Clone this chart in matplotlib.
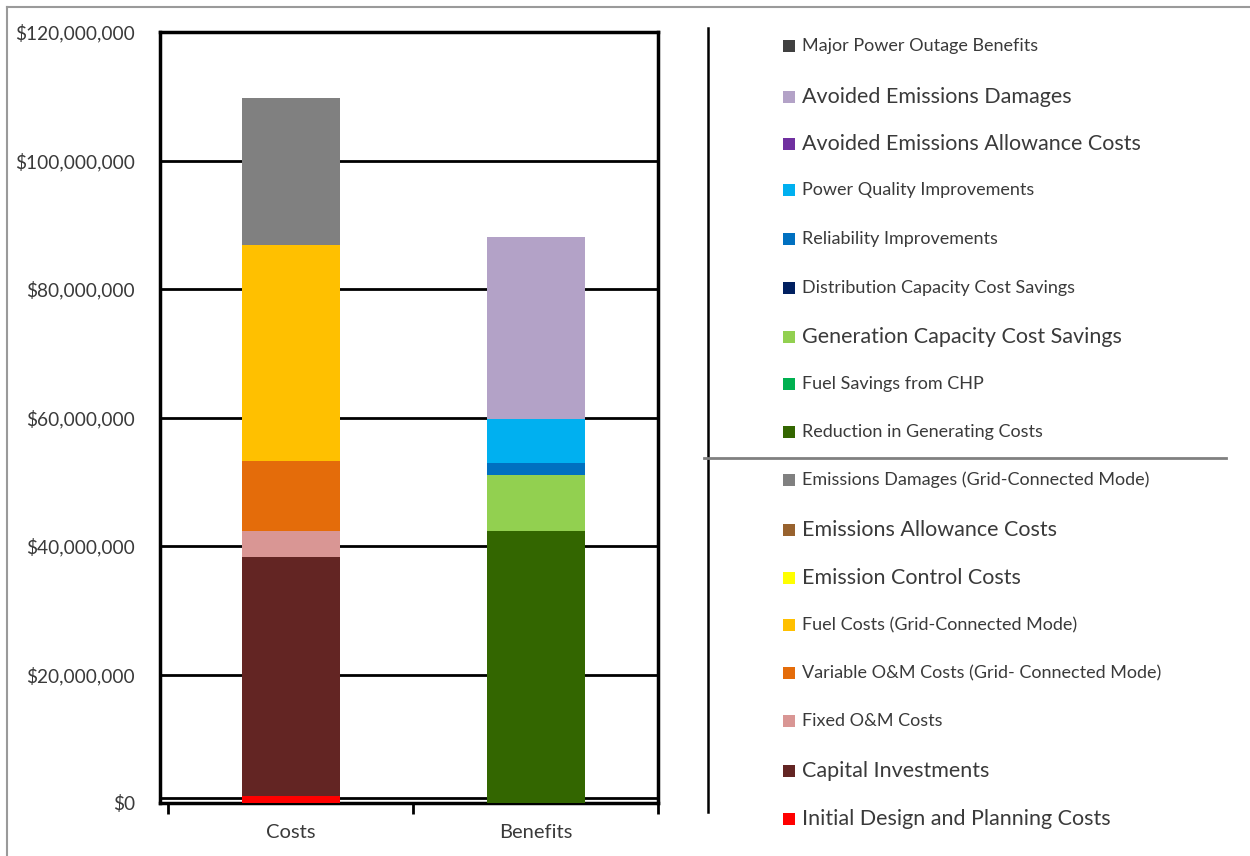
import numpy as np
import matplotlib.pyplot as plt
from matplotlib.lines import Line2D
from matplotlib.ticker import FuncFormatter

plt.rcParams['font.family'] = ['Lato', 'DejaVu Sans']

categories = ['Costs', 'Benefits']

# stacked components, bottom to top, in dollars
cost_labels = [
    'Initial Design and Planning Costs',
    'Capital Investments',
    'Fixed O&M Costs',
    'Variable O&M Costs (Grid- Connected Mode)',
    'Fuel Costs (Grid-Connected Mode)',
    'Emission Control Costs',
    'Emissions Allowance Costs',
    'Emissions Damages (Grid-Connected Mode)',
]
cost_values = [1.1e6, 37.2e6, 4.05e6, 10.95e6, 33.6e6, 0, 0, 22.75e6]
cost_colors = ['#FF0000', '#632523', '#D99694', '#E46C0A', '#FFC000',
               '#FFFF00', '#98622E', '#808080']

benefit_labels = [
    'Reduction in Generating Costs',
    'Fuel Savings from CHP',
    'Generation Capacity Cost Savings',
    'Distribution Capacity Cost Savings',
    'Reliability Improvements',
    'Power Quality Improvements',
    'Avoided Emissions Allowance Costs',
    'Avoided Emissions Damages',
    'Major Power Outage Benefits',
]
benefit_values = [42.35e6, 0, 8.7e6, 0, 1.9e6, 6.75e6, 0, 28.45e6, 0]
benefit_colors = ['#336600', '#00B050', '#92D050', '#002060', '#0070C0',
                  '#00B0F0', '#7030A0', '#B3A2C7', '#404040']

# legend order (top to bottom) and which entries use the larger type
legend_labels = benefit_labels[::-1] + cost_labels[::-1]
legend_colors = benefit_colors[::-1] + cost_colors[::-1]
legend_big = [False, True, True, False, False, False, True, False, False,
              False, True, True, False, False, False, True, True]

W, H = 1250, 856
fig = plt.figure(figsize=(W / 100, H / 100), dpi=100)


def px_box(x0, y0, x1, y1):
    return [x0 / W, 1 - y1 / H, (x1 - x0) / W, (y1 - y0) / H]


ax = fig.add_axes(px_box(160, 32, 658, 803))
text_gray = '#3a3a3a'

bottom = 0.0
for val, col in zip(cost_values, cost_colors):
    ax.bar(0, val, bottom=bottom, width=0.40, color=col, zorder=3)
    bottom += val
bottom = 0.0
for val, col in zip(benefit_values, benefit_colors):
    ax.bar(1, val, bottom=bottom, width=0.40, color=col, zorder=3)
    bottom += val

ax.set_ylim(0, 120e6)
ax.set_xlim(-0.533, 1.5)
ax.set_yticks(np.arange(0, 120e6 + 1, 20e6))
ax.yaxis.set_major_formatter(FuncFormatter(lambda v, p: f'${v:,.0f}'))
ax.grid(axis='y', color='black', linewidth=2, zorder=1)
ax.axhline(0.8e6, color='black', linewidth=2, zorder=1)
ax.tick_params(axis='y', length=0, pad=18, labelsize=13.8, labelcolor=text_gray)

ax.set_xticks([-0.5, 0.5, 1.5])
ax.set_xticklabels([])
ax.set_xticks([0, 1], minor=True)
ax.set_xticklabels(categories, minor=True)
ax.tick_params(axis='x', which='major', direction='out', length=8, width=2)
ax.tick_params(axis='x', which='minor', length=0, pad=15, labelsize=14.5,
               labelcolor=text_gray)
for s in ax.spines.values():
    s.set_linewidth(2.5)
    s.set_color('black')

# legend panel drawn in pixel coordinates
lg = fig.add_axes([0, 0, 1, 1], zorder=-1)
lg.set_xlim(0, W)
lg.set_ylim(H, 0)
lg.axis('off')
lg.add_line(Line2D([7, W], [7, 7], color='#9a9a9a', linewidth=1.5))
lg.add_line(Line2D([7, 7], [7, H], color='#9a9a9a', linewidth=1.5))
lg.add_line(Line2D([708, 708], [28, 812], color='black', linewidth=1.8))
lg.add_line(Line2D([704, 1226], [458, 458], color='#808080', linewidth=2))

entry_y = [46, 97, 144, 190, 239, 288, 337, 384, 432,
           480, 530, 578, 625, 673, 721, 771, 819]
for y, lab, col, big in zip(entry_y, legend_labels, legend_colors, legend_big):
    lg.scatter(789, y, marker='s', s=75, color=col, linewidths=0)
    lg.text(802, y, lab, fontsize=15.5 if big else 13, color=text_gray,
            va='center', ha='left')

fig.savefig('out.png', dpi=100)
